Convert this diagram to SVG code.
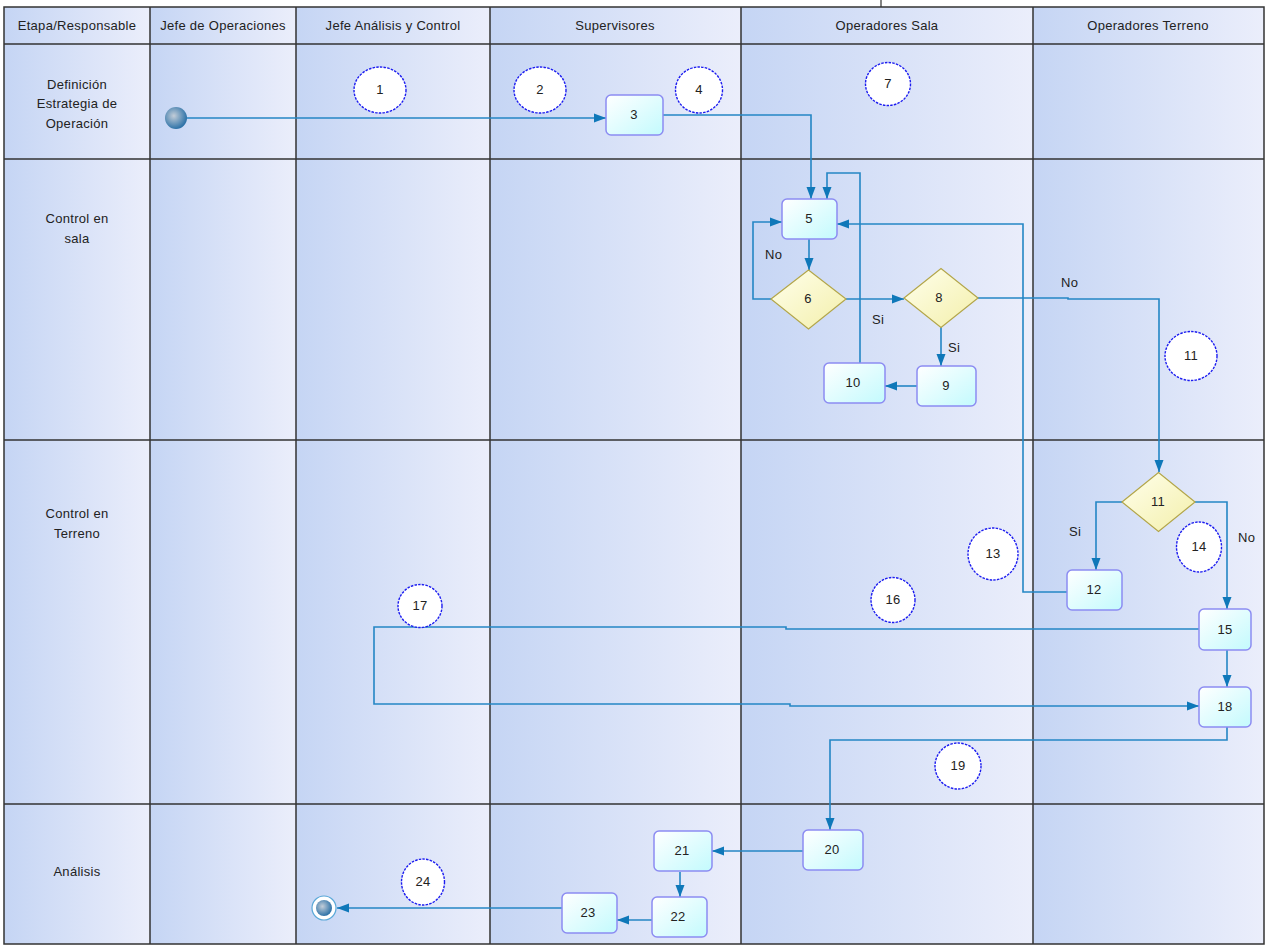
<svg xmlns="http://www.w3.org/2000/svg" width="1265" height="945" viewBox="0 0 1265 945">
<style>
text{font-family:"Liberation Sans",Arial,sans-serif;font-size:13px;letter-spacing:0.3px;fill:#222;text-anchor:middle}
.lane{fill:url(#lane)}
.grid{stroke:#333;stroke-width:1.5;fill:none}
.box{fill:url(#box);stroke:#8c8cf2;stroke-width:1.5}
.dia{fill:url(#dia);stroke:#b3a64a;stroke-width:1.2}
.note{fill:#fff;stroke:#1c1cf0;stroke-width:1.4;stroke-dasharray:2.5 1.2}
.c{fill:none;stroke:#2486c5;stroke-width:1.6}
.a{marker-end:url(#ar)}
.lbl{text-anchor:start}
</style>
<defs>
<linearGradient id="lane" x1="0" y1="0" x2="1" y2="0"><stop offset="0" stop-color="#c5d5f4"/><stop offset="1" stop-color="#ebeefb"/></linearGradient>
<linearGradient id="box" x1="0" y1="0" x2="1" y2="1"><stop offset="0" stop-color="#ffffff"/><stop offset="1" stop-color="#c3fafd"/></linearGradient>
<linearGradient id="dia" x1="0" y1="0" x2="1" y2="1"><stop offset="0" stop-color="#ffffec"/><stop offset="1" stop-color="#f3efaa"/></linearGradient>
<radialGradient id="ball" cx="0.4" cy="0.4" r="0.6"><stop offset="0" stop-color="#c3cdd8"/><stop offset="1" stop-color="#2f73a8"/></radialGradient>
<marker id="ar" viewBox="0 0 13 10" refX="12" refY="5" markerWidth="13" markerHeight="10" markerUnits="userSpaceOnUse" orient="auto"><path d="M0,0.5 L12,5 L0,9.5 z" fill="#0f78b9"/></marker>
</defs>
<g id="lanes">
<rect class="lane" x="4" y="7" width="146" height="937"/>
<rect class="lane" x="150" y="7" width="146" height="937"/>
<rect class="lane" x="296" y="7" width="194" height="937"/>
<rect class="lane" x="490" y="7" width="251" height="937"/>
<rect class="lane" x="741" y="7" width="292" height="937"/>
<rect class="lane" x="1033" y="7" width="231" height="937"/>
<path class="grid" d="M4,7 H1264 V944 H4 Z M4,44 H1264 M4,159 H1264 M4,440 H1264 M4,804 H1264 M150,7 V944 M296,7 V944 M490,7 V944 M741,7 V944 M1033,7 V944"/>
<path d="M881,0 V7" stroke="#333" stroke-width="1.2"/>
<text x="77" y="30">Etapa/Responsable</text>
<text x="223" y="30">Jefe de Operaciones</text>
<text x="393" y="30">Jefe Análisis y Control</text>
<text x="615" y="30">Supervisores</text>
<text x="887" y="30">Operadores Sala</text>
<text x="1148" y="30">Operadores Terreno</text>
<text x="77" y="89">Definición</text>
<text x="77" y="108">Estrategia de</text>
<text x="77" y="128">Operación</text>
<text x="77" y="223">Control en</text>
<text x="77" y="243">sala</text>
<text x="77" y="518">Control en</text>
<text x="77" y="538">Terreno</text>
<text x="77" y="876">Análisis</text>
</g>
<g id="connectors">
<path class="c a" d="M187,118 H606"/>
<path class="c a" d="M663,115 H811 V199"/>
<path class="c a" d="M809,239 V270"/>
<path class="c a" d="M771,299 H753 V222 H782"/>
<path class="c a" d="M846,299 H904"/>
<path class="c a" d="M941,327 V366"/>
<path class="c a" d="M917,386 H885"/>
<path class="c a" d="M860,363 V173 H827 V199"/>
<path class="c a" d="M978,298 H1068 V299 H1159 V472"/>
<path class="c a" d="M1067,592 H1023 V224 H837"/>
<path class="c a" d="M1122,502 H1096 V570"/>
<path class="c a" d="M1195,502 H1227 V609"/>
<path class="c a" d="M1199,629 H786 V627 H374 V704 H790 V706 H1199"/>
<path class="c a" d="M1227,650 V687"/>
<path class="c a" d="M1227,727 V740 H830 V830"/>
<path class="c a" d="M803,851 H712"/>
<path class="c a" d="M680,872 V897"/>
<path class="c a" d="M652,920 H617"/>
<path class="c a" d="M562,908 H337"/>
<text class="lbl" x="765" y="259">No</text>
<text class="lbl" x="872" y="324">Si</text>
<text class="lbl" x="948" y="352">Si</text>
<text class="lbl" x="1061" y="287">No</text>
<text class="lbl" x="1069" y="536">Si</text>
<text class="lbl" x="1238" y="542">No</text>
</g>
<g id="start"><circle cx="176" cy="118" r="11" fill="url(#ball)"/></g>
<g id="end"><circle cx="324" cy="908" r="12" fill="#fff" stroke="#5aa8d8" stroke-width="1.2"/><circle cx="324" cy="908" r="8" fill="url(#ball)"/></g>
<g id="n1"><ellipse class="note" cx="380" cy="90" rx="26" ry="23"/><text x="380" y="94">1</text></g>
<g id="n2"><ellipse class="note" cx="540" cy="90" rx="26" ry="23"/><text x="540" y="94">2</text></g>
<g id="n3"><rect class="box" x="606" y="95" width="57" height="40" rx="5"/><text x="634" y="119">3</text></g>
<g id="n4"><ellipse class="note" cx="699" cy="90" rx="23.5" ry="23"/><text x="699" y="94">4</text></g>
<g id="n7"><ellipse class="note" cx="888" cy="84" rx="22.5" ry="21.5"/><text x="888" y="88">7</text></g>
<g id="n5"><rect class="box" x="782" y="199" width="55" height="40" rx="5"/><text x="809" y="223">5</text></g>
<g id="n6"><polygon class="dia" points="771,299 808.5,270 846,299 808.5,329"/><text x="808" y="303">6</text></g>
<g id="n8"><polygon class="dia" points="904,298 941,268.5 978,298 941,327.5"/><text x="939" y="302">8</text></g>
<g id="n9"><rect class="box" x="917" y="366" width="59" height="40" rx="5"/><text x="946" y="390">9</text></g>
<g id="n10"><rect class="box" x="824" y="363" width="61" height="40" rx="5"/><text x="853" y="387">10</text></g>
<g id="n11a"><ellipse class="note" cx="1191" cy="356" rx="26" ry="24.5"/><text x="1191" y="360">11</text></g>
<g id="n11"><polygon class="dia" points="1122,502 1158.5,472.5 1195,502 1158.5,531.5"/><text x="1158" y="506">11</text></g>
<g id="n12"><rect class="box" x="1067" y="570" width="55" height="40" rx="5"/><text x="1094" y="594">12</text></g>
<g id="n13"><ellipse class="note" cx="993" cy="554" rx="25" ry="26"/><text x="993" y="558">13</text></g>
<g id="n14"><ellipse class="note" cx="1199" cy="547" rx="22.5" ry="25"/><text x="1199" y="551">14</text></g>
<g id="n15"><rect class="box" x="1199" y="609" width="52" height="41" rx="5"/><text x="1225" y="634">15</text></g>
<g id="n16"><ellipse class="note" cx="893" cy="600" rx="22" ry="22.5"/><text x="893" y="604">16</text></g>
<g id="n17"><ellipse class="note" cx="420" cy="606" rx="22" ry="21.5"/><text x="420" y="610">17</text></g>
<g id="n18"><rect class="box" x="1199" y="687" width="52" height="40" rx="5"/><text x="1225" y="711">18</text></g>
<g id="n19"><ellipse class="note" cx="958" cy="766" rx="23" ry="23"/><text x="958" y="770">19</text></g>
<g id="n20"><rect class="box" x="803" y="830" width="60" height="40" rx="5"/><text x="832" y="854">20</text></g>
<g id="n21"><rect class="box" x="654" y="831" width="58" height="40" rx="5"/><text x="682" y="855">21</text></g>
<g id="n22"><rect class="box" x="652" y="897" width="55" height="40" rx="5"/><text x="678" y="921">22</text></g>
<g id="n23"><rect class="box" x="562" y="893" width="55" height="40" rx="5"/><text x="588" y="917">23</text></g>
<g id="n24"><ellipse class="note" cx="423" cy="882" rx="21.5" ry="23"/><text x="423" y="886">24</text></g>
</svg>
